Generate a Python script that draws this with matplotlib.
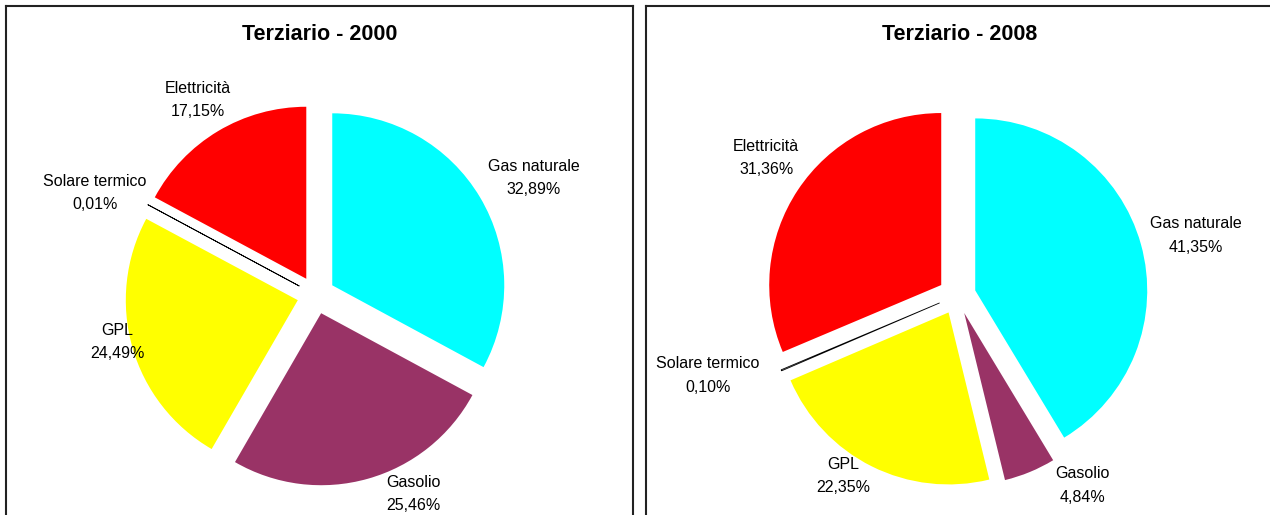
import matplotlib.pyplot as plt

fonti = ["Gas naturale", "Gasolio", "GPL", "Solare termico", "Elettricità"]
quote_2000 = [32.89, 25.46, 24.49, 0.01, 17.15]
quote_2008 = [41.35, 4.84, 22.35, 0.10, 31.36]
colori = ["#00FFFF", "#993366", "#FFFF00", "#FFFFFF", "#FF0000"]

# label spots, in pie radii from the centre
pos_2000 = [(1.267, 0.680), (0.564, -1.157), (-1.157, -0.273), (-1.285, 0.593), (-0.686, 1.134)]
pos_2008 = [(1.390, 0.349), (0.727, -1.105), (-0.663, -1.047), (-1.448, -0.465), (-1.110, 0.797)]

plt.rcParams['font.family'] = ['Liberation Sans', 'DejaVu Sans']

W, H = 1270, 515
R = 172  # pie radius in pixels
fig = plt.figure(figsize=(W / 100, H / 100), dpi=100)


def pannello(box, centro, valori, titolo, pos):
    x0, x1 = box
    cx, cy = centro
    top, bottom = 5.5, 520
    ax = fig.add_axes([x0 / W, 1 - bottom / H, (x1 - x0) / W, (bottom - top) / H])
    wedges, _ = ax.pie(valori, colors=colori, startangle=90, counterclock=False,
                       explode=[0.11] * len(valori), radius=1,
                       wedgeprops=dict(linewidth=0))
    # the tiny solar slice only shows as its outline
    wedges[3].set_edgecolor('black')
    wedges[3].set_linewidth(0.6)

    for nome, v, (lx, ly) in zip(fonti, valori, pos):
        testo = nome + "\n" + f"{v:.2f}".replace('.', ',') + "%"
        ax.text(lx, ly, testo, ha='center', va='center', fontsize=11.5, linespacing=1.68)

    ax.set_aspect('auto')
    ax.set_xlim((x0 - cx) / R, (x1 - cx) / R)
    ax.set_ylim((cy - bottom) / R, (cy - top) / R)
    ax.set_frame_on(True)
    ax.set_xticks([])
    ax.set_yticks([])
    for s in ax.spines.values():
        s.set_linewidth(1.5)
        s.set_color('#222222')
    ax.text(0.5, (bottom - 34) / (bottom - top), titolo, transform=ax.transAxes,
            ha='center', va='center', fontsize=15.5, fontweight='bold')


pannello((6, 633), (316, 295), quote_2000, "Terziario - 2000", pos_2000)
pannello((646, 1273), (957, 295.5), quote_2008, "Terziario - 2008", pos_2008)

fig.savefig("out.png", dpi=100)
